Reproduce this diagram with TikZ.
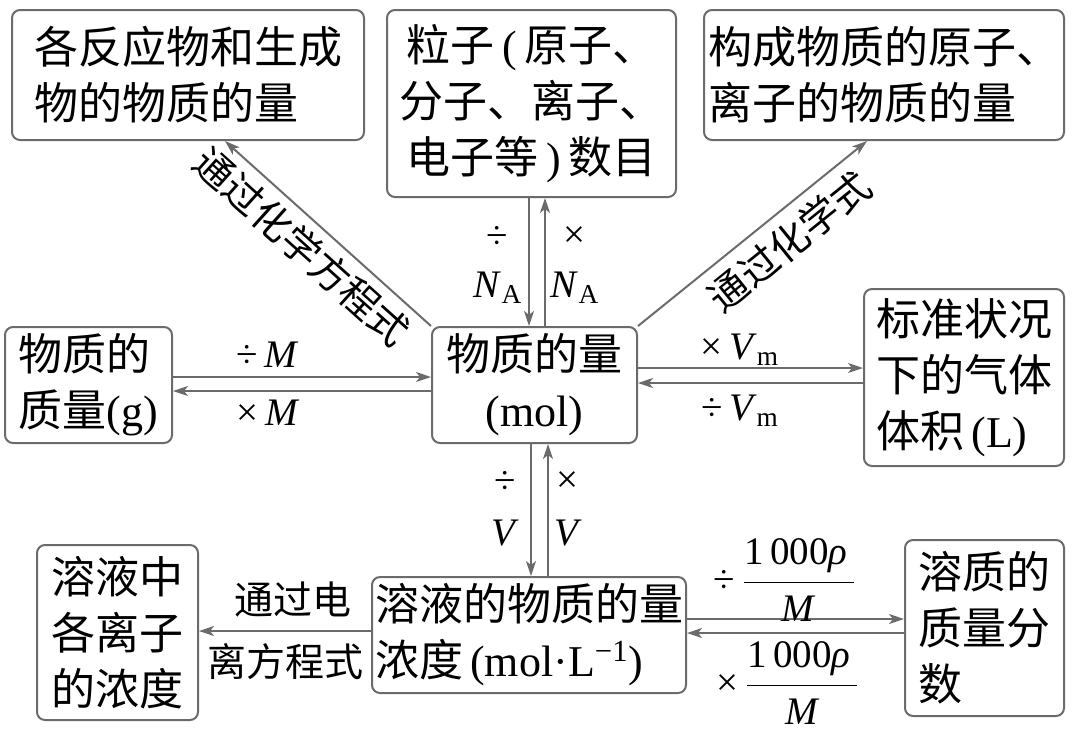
\documentclass[tikz,border=0pt]{standalone}
\usepackage{fontspec}
\setmainfont{Noto Sans CJK SC}
\newfontfamily\latinfont{Liberation Serif}
\newcommand{\en}[1]{{\latinfont #1}}
\newcommand{\rhofrac}{$\displaystyle\frac{\hbox{\en{1\,000\textit{ρ}\,}}}{\hbox{\en{\textit{M}}}}$}
\usetikzlibrary{arrows.meta, calc}

\begin{document}
\begin{tikzpicture}[
    x=0.5pt, y=-0.5pt,
    box/.style={
            rectangle,
            rounded corners=4pt,
            draw=black!58,
            line width=1pt,
            inner sep=0pt,
            font=\fontsize{22}{28}\selectfont,
            align=left
        },
    arrow/.style={draw=black!58, line width=1pt, -{Stealth[length=7.5pt, width=5pt, inset=2pt]}},
    lbl/.style={font=\fontsize{19.5}{24}\selectfont, inner sep=1pt},
    ]
    \useasboundingbox (0,0) rectangle (1080,730);

    % --- Boxes ---
    \node[box, minimum width=176pt, minimum height=65pt] (reac) at (188,75) {各反应物和生成\\物的物质的量};
    \node[box, align=center, minimum width=144.5pt, minimum height=93.5pt] (part) at (531.5,103.5) {粒子\en{\,(\,}原子、\\分子、离子、\\电子等\en{\,)\,}数目};
    \node[box, minimum width=180pt, minimum height=65pt] (atom) at (884,75) {构成物质的原子、\\离子的物质的量};
    \node[box, minimum width=83.5pt, minimum height=58pt] (mass) at (88.5,385) {物质的\\质量\en{(g)}};
    \node[box, align=center, minimum width=102.5pt, minimum height=58pt] (mol) at (534.5,385) {物质的量\\\en{(mol)}};
    \node[box, minimum width=100pt, minimum height=88.5pt] (gas) at (964,377.5) {标准状况\\下的气体\\体积\en{\,(L)}};
    \node[box, align=center, minimum width=80.5pt, minimum height=87.5pt] (ion) at (117.5,632.5) {溶液中\\各离子\\的浓度};
    \node[box, minimum width=157pt, minimum height=58pt] (conc) at (529,635) {溶液的物质的量\\浓度\en{\,(mol·L\textsuperscript{−1})}};
    \node[box, minimum width=79.5pt, minimum height=88pt] (frac) at (984.5,628) {溶质的\\质量分\\数};

    % --- Lanes ---
    \coordinate (na_dn) at (529,0);
    \coordinate (na_up) at (545,0);
    \coordinate (m_up) at (0,377);
    \coordinate (m_dn) at (0,391);
    \coordinate (vm_up) at (0,368);
    \coordinate (vm_dn) at (0,383);
    \coordinate (v_dn) at (531,0);
    \coordinate (v_up) at (548,0);
    \coordinate (ion_y) at (0,631);
    \coordinate (w_up) at (0,619);
    \coordinate (w_dn) at (0,633);

    % --- Arrows ---
    \draw[arrow] (mol.north west) -- node[lbl, sloped, below=3pt, pos=0.54] {通过化学方程式} ([xshift=18.5pt]reac.south);
    \draw[arrow] (mol.north east) -- node[lbl, sloped, below=4pt, pos=0.58] {通过化学式} ([xshift=-8.5pt]atom.south);
    \draw[arrow] (part.south -| na_dn) -- (mol.north -| na_dn);
    \draw[arrow] (mol.north -| na_up) -- (part.south -| na_up);
    \draw[arrow] (mass.east |- m_up) -- (mol.west |- m_up);
    \draw[arrow] (mol.west |- m_dn) -- (mass.east |- m_dn);
    \draw[arrow] (mol.east |- vm_up) -- (gas.west |- vm_up);
    \draw[arrow] (gas.west |- vm_dn) -- (mol.east |- vm_dn);
    \draw[arrow] (mol.south -| v_dn) -- (conc.north -| v_dn);
    \draw[arrow] (conc.north -| v_up) -- (mol.south -| v_up);
    \draw[arrow] (conc.west |- ion_y) -- (ion.east |- ion_y);
    \draw[arrow] (conc.east |- w_up) -- (frac.west |- w_up);
    \draw[arrow] (frac.west |- w_dn) -- (conc.east |- w_dn);

    % --- Labels ---
    \node[lbl] (na_div) at (497,237) {\en{÷}};
    \node[lbl] (na_left) at (498,288) {\en{\textit{N}\textsubscript{A}}};
    \node[lbl] (na_mul) at (574,237) {\en{×}};
    \node[lbl] (na_right) at (575,288) {\en{\textit{N}\textsubscript{A}}};
    \node[lbl] (m_div) at (268,355) {\en{÷\,\textit{M}}};
    \node[lbl] (m_mul) at (268,413) {\en{×\,\textit{M}}};
    \node[lbl] (vm_mul) at (740,350) {\en{×\,\textit{V}\textsubscript{m}}};
    \node[lbl] (vm_div) at (740,411) {\en{÷\,\textit{V}\textsubscript{m}}};
    \node[lbl] (v_div) at (505,482) {\en{÷}};
    \node[lbl] (v_left) at (505,533) {\en{\textit{V}}};
    \node[lbl] (v_mul) at (567,482) {\en{×}};
    \node[lbl] (v_right) at (568,533) {\en{\textit{V}}};
    \node[lbl] (ion_top) at (293,600) {通过电};
    \node[lbl] (ion_bot) at (285,662) {离方程式};
    \node[lbl] (w_div) at (785,580) {\en{÷\,}\rhofrac};
    \node[lbl] (w_mul) at (788,683) {\en{×\,}\rhofrac};

\end{tikzpicture}
\end{document}
